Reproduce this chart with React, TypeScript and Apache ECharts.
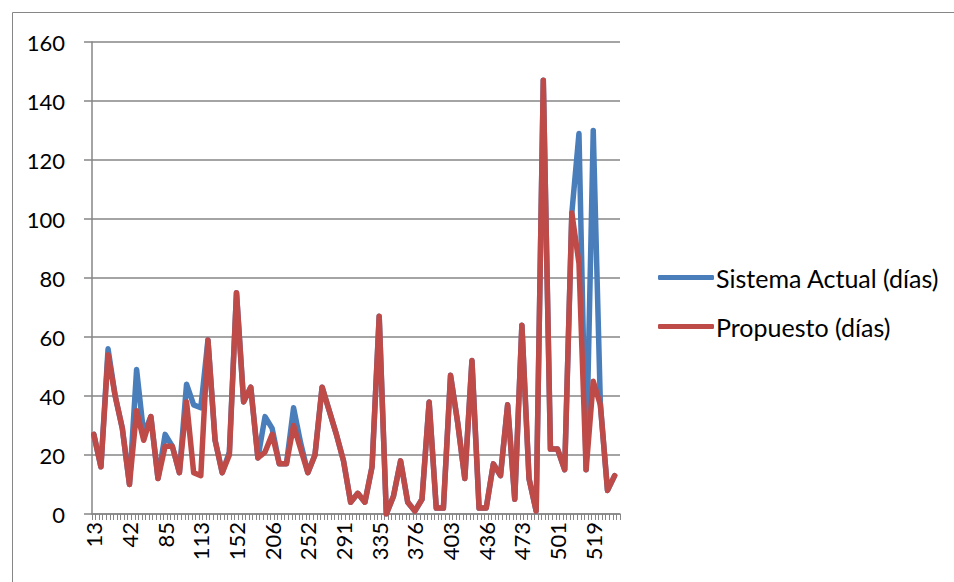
import React, { useEffect, useRef } from "react";
import * as echarts from "echarts";

// Tick labels shown on the category axis (one every 10 categories)
const xTickLabels = ["13", "42", "85", "113", "152", "206", "252", "291", "335", "376", "403", "436", "473", "501", "519"];

// Values (one per plotted point)
const sistemaActual = [
  27, 16, 56, 40, 29, 10, 49, 27, 33, 12,
  27, 23, 14, 44, 37, 36, 59, 25, 14, 21,
  75, 38, 43, 19, 33, 29, 17, 17, 36, 24,
  14, 20, 43, 35, 27, 18, 4, 7, 4, 16,
  67, 0, 6, 18, 4, 1, 5, 38, 2, 2,
  47, 31, 12, 52, 2, 2, 17, 13, 37, 5,
  64, 12, 1, 147, 22, 22, 15, 102, 129, 15,
  130, 37, 8, 13,
];
const propuesto = [
  27, 16, 54, 40, 29, 10, 35, 25, 33, 12,
  23, 23, 14, 38, 14, 13, 59, 25, 14, 20,
  75, 38, 43, 19, 21, 27, 17, 17, 30, 22,
  14, 20, 43, 35, 27, 18, 4, 7, 4, 16,
  67, 0, 6, 18, 4, 1, 5, 38, 2, 2,
  47, 31, 12, 52, 2, 2, 17, 13, 37, 5,
  64, 12, 1, 147, 22, 22, 15, 102, 85, 15,
  45, 37, 8, 13,
];
const seriesNames = ["Sistema Actual (días)", "Propuesto (días)"];

const CATS_PER_POINT = 2;
const LABEL_EVERY = 10;

export default function App() {
  const ref = useRef<HTMLDivElement>(null);
  useEffect(() => {
    if (!ref.current) return;
    const chart = echarts.init(ref.current, null, { renderer: "svg" });
    const nCats = sistemaActual.length * CATS_PER_POINT;
    const categories: string[] = [];
    for (let i = 0; i < nCats; i++) {
      categories.push(i % LABEL_EVERY === 0 ? xTickLabels[i / LABEL_EVERY] ?? "" : "");
    }
    const expand = (arr: number[]) => {
      const out: (number | null)[] = [];
      arr.forEach((v) => {
        out.push(v);
        for (let k = 1; k < CATS_PER_POINT; k++) out.push(null);
      });
      return out;
    };
    const font = "Lato, 'Open Sans', sans-serif";
    const grey = "#868686";
    chart.setOption({
      animation: false,
      textStyle: { fontFamily: font },
      graphic: [
        {
          type: "rect",
          shape: { x: 12.5, y: 12.5, width: 1000, height: 1000 },
          style: { fill: "none", stroke: grey, lineWidth: 1 },
          silent: true,
        },
      ],
      grid: { left: 92, right: 334, top: 42, bottom: 68 },
      legend: {
        orient: "vertical",
        left: 658,
        top: 265,
        padding: 0,
        icon: "roundRect",
        itemWidth: 56,
        itemHeight: 5,
        itemGap: 24,
        textStyle: { fontSize: 25, color: "#000", fontFamily: font, lineHeight: 24, padding: [0, 0, 0, -3] },
        data: seriesNames,
      },
      xAxis: {
        type: "category",
        boundaryGap: true,
        data: categories,
        axisLine: { lineStyle: { color: grey, width: 1.5 } },
        axisTick: { show: true, interval: 0, length: 6, lineStyle: { color: grey } },
        axisLabel: {
          interval: LABEL_EVERY - 1,
          rotate: 90,
          fontSize: 22,
          color: "#000",
          fontFamily: font,
          margin: 8,
        },
        splitLine: { show: false },
      },
      yAxis: {
        type: "value",
        min: 0,
        max: 160,
        interval: 20,
        axisLine: { show: true, lineStyle: { color: grey, width: 1.5 } },
        axisTick: { show: true, length: 8, lineStyle: { color: grey, width: 1.5 } },
        axisLabel: { fontSize: 22, color: "#000", fontFamily: font, margin: 27 },
        splitLine: { lineStyle: { color: grey, width: 1.5 } },
      },
      series: [
        {
          name: seriesNames[0],
          type: "line",
          data: expand(sistemaActual),
          connectNulls: true,
          showSymbol: false,
          symbol: "none",
          lineStyle: { color: "#4A7EBB", width: 5.5, join: "round", cap: "round" },
          itemStyle: { color: "#4A7EBB" },
        },
        {
          name: seriesNames[1],
          type: "line",
          data: expand(propuesto),
          connectNulls: true,
          showSymbol: false,
          symbol: "none",
          lineStyle: { color: "#BE4B48", width: 5.5, join: "round", cap: "round" },
          itemStyle: { color: "#BE4B48" },
        },
      ],
    });
    return () => chart.dispose();
  }, []);
  return (
    <div
      ref={ref}
      style={{ position: "fixed", left: 0, top: 0, width: 954, height: 582, background: "#fff" }}
    />
  );
}
